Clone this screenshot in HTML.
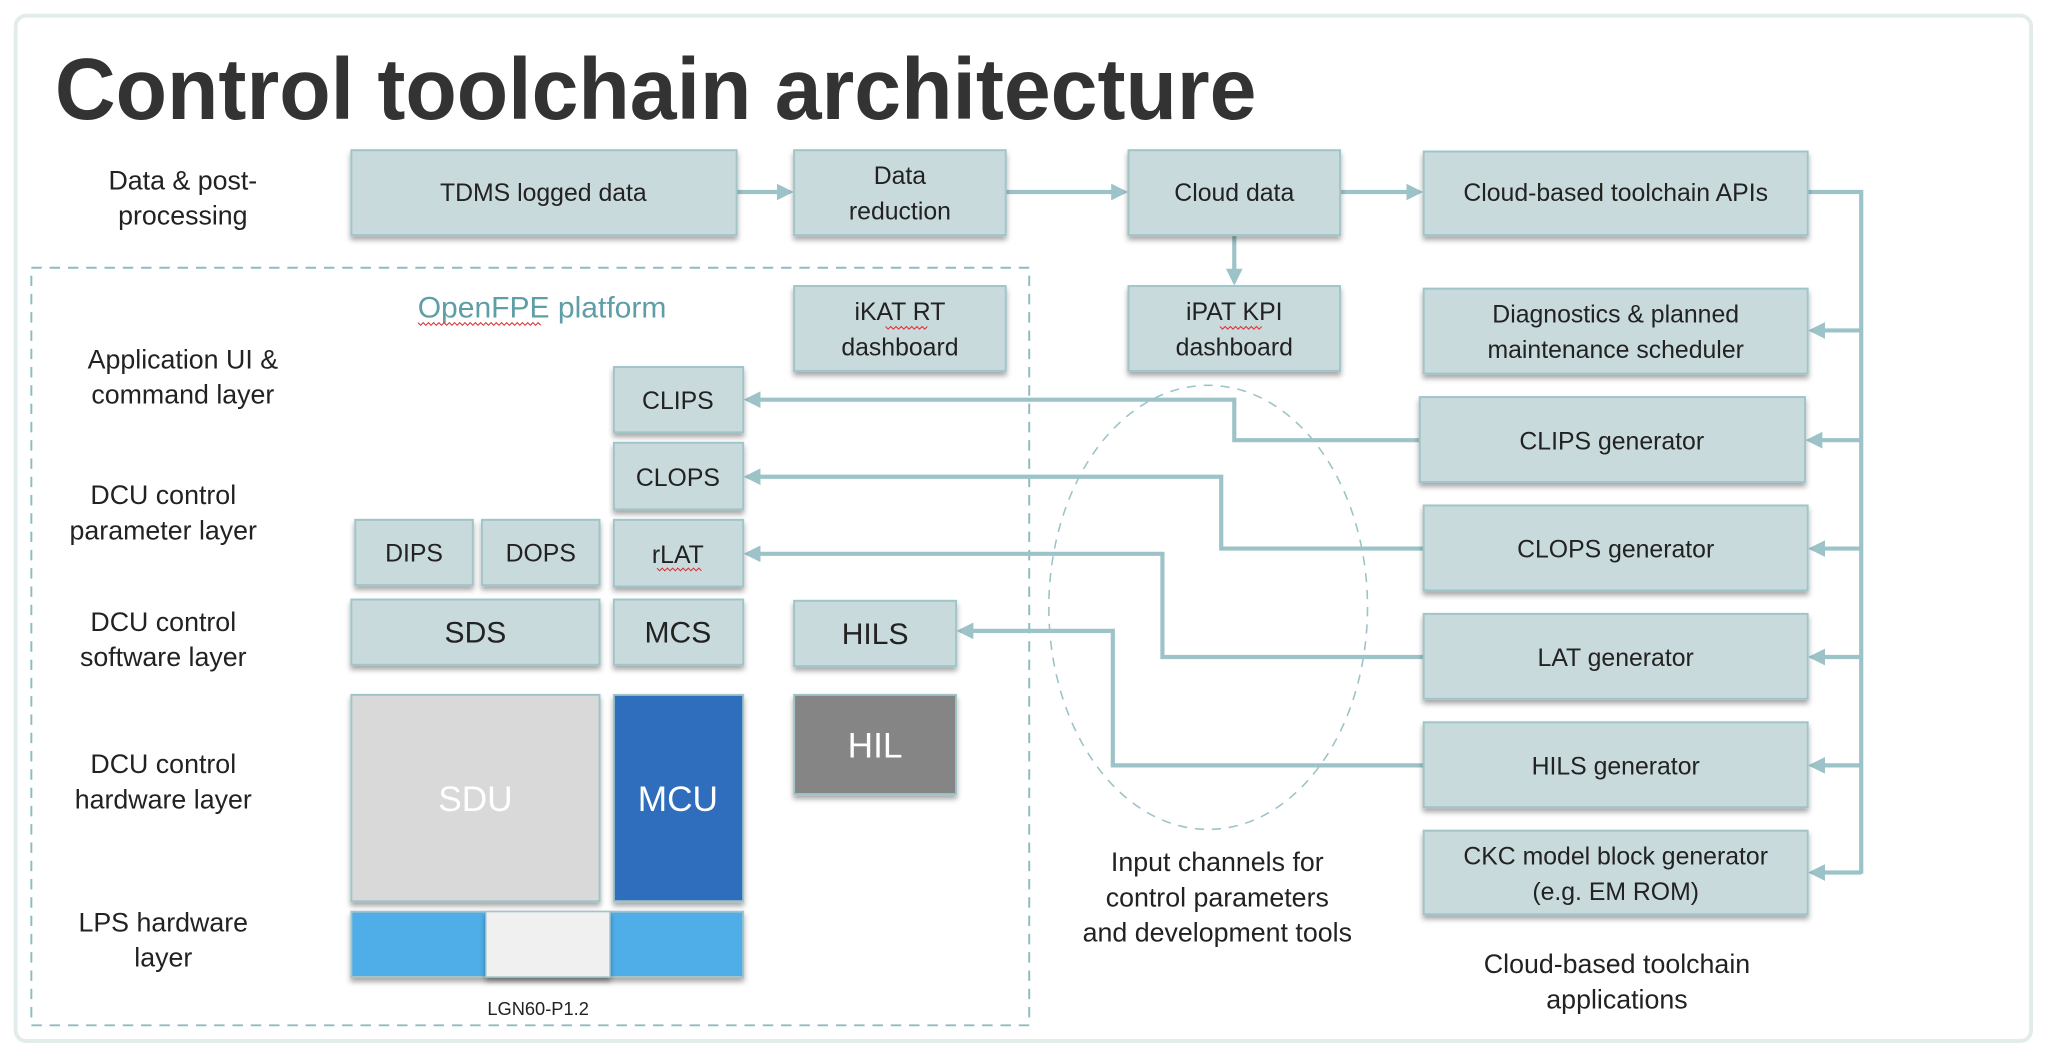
<!DOCTYPE html>
<html><head><meta charset="utf-8"><style>
html,body{margin:0;padding:0;background:#fff;}
svg{display:block;}
text{font-family:"Liberation Sans",sans-serif;}
</style></head><body>
<svg width="2048" height="1056" viewBox="0 0 1568 808.5" preserveAspectRatio="none" xmlns="http://www.w3.org/2000/svg">
<defs>
<filter id="sh" x="-10%" y="-10%" width="120%" height="140%"><feDropShadow dx="0" dy="3" stdDeviation="2" flood-color="#000" flood-opacity="0.35"/></filter>
<marker id="ar" markerWidth="4" markerHeight="4" refX="3.2" refY="2" orient="auto" markerUnits="strokeWidth"><path d="M0,0 L4,2 L0,4 z" fill="#9cc3c7"/></marker>
</defs>
<rect x="12" y="12" width="1543" height="785" rx="8" fill="#fff" stroke="#e2eceb" stroke-width="3"/>
<text x="42" y="91" font-size="67" font-weight="bold" fill="#333" textLength="920" lengthAdjust="spacingAndGlyphs">Control toolchain architecture</text>

<rect x="24" y="205" width="764" height="580" fill="none" stroke="#8fbcc0" stroke-width="1.5" stroke-dasharray="8,6"/>
<ellipse cx="925" cy="465" rx="122" ry="170" fill="none" stroke="#9cc3c7" stroke-width="1.2" stroke-dasharray="7,6"/>
<text x="415" y="243" font-size="23" fill="#5e9ea6" text-anchor="middle">OpenFPE platform</text>

<g font-size="20.5" fill="#222" text-anchor="middle">
<text x="140" y="145">Data &amp; post-</text><text x="140" y="172">processing</text>
<text x="140" y="282">Application UI &amp;</text><text x="140" y="309">command layer</text>
<text x="125" y="386">DCU control</text><text x="125" y="413">parameter layer</text>
<text x="125" y="483">DCU control</text><text x="125" y="510">software layer</text>
<text x="125" y="592">DCU control</text><text x="125" y="619">hardware layer</text>
<text x="125" y="713">LPS hardware</text><text x="125" y="740">layer</text>
<text x="932" y="667">Input channels for</text><text x="932" y="694">control parameters</text><text x="932" y="721">and development tools</text>
<text x="1238" y="745">Cloud-based toolchain</text><text x="1238" y="772">applications</text>
</g>
<text x="412" y="777" font-size="14" fill="#222" text-anchor="middle">LGN60-P1.2</text>

<g stroke="#9cc3c7" stroke-width="3.2" fill="none" marker-end="url(#ar)">
<line x1="564" y1="147" x2="605" y2="147"/>
<line x1="770" y1="147" x2="861" y2="147"/>
<line x1="1026" y1="147" x2="1087" y2="147"/>
<line x1="945" y1="180" x2="945" y2="216"/>
<polyline points="1087,337 945,337 945,306 572,306"/>
<polyline points="1090,420 935,420 935,365 572,365"/>
<polyline points="1090,503 890,503 890,424 572,424"/>
<polyline points="1090,586 852,586 852,483 735,483"/>
<line x1="1425" y1="253" x2="1387" y2="253"/>
<line x1="1425" y1="337" x2="1385" y2="337"/>
<line x1="1425" y1="420" x2="1387" y2="420"/>
<line x1="1425" y1="503" x2="1387" y2="503"/>
<line x1="1425" y1="586" x2="1387" y2="586"/>
<line x1="1425" y1="668" x2="1387" y2="668"/>
</g>
<polyline points="1384,147 1425,147 1425,669" stroke="#9cc3c7" stroke-width="3.2" fill="none"/>

<g fill="#c9dadd" stroke="#9fc5c9" stroke-width="1.5" filter="url(#sh)">
<rect x="269" y="115" width="295" height="65"/>
<rect x="608" y="115" width="162" height="65"/>
<rect x="864" y="115" width="162" height="65"/>
<rect x="1090" y="116" width="294" height="64"/>
<rect x="608" y="219" width="162" height="65"/>
<rect x="864" y="219" width="162" height="65"/>
<rect x="1090" y="221" width="294" height="65"/>
<rect x="1087" y="304" width="295" height="65"/>
<rect x="1090" y="387" width="294" height="65"/>
<rect x="1090" y="470" width="294" height="65"/>
<rect x="1090" y="553" width="294" height="65"/>
<rect x="1090" y="636" width="294" height="64"/>
<rect x="470" y="281" width="99" height="50"/>
<rect x="470" y="339" width="99" height="51"/>
<rect x="272" y="398" width="90" height="50"/>
<rect x="369" y="398" width="90" height="50"/>
<rect x="470" y="398" width="99" height="51"/>
<rect x="269" y="459" width="190" height="50"/>
<rect x="470" y="459" width="99" height="50"/>
<rect x="608" y="460" width="124" height="50"/>
<rect x="269" y="532" width="190" height="158" fill="#d9d9d9"/>
<rect x="470" y="532" width="99" height="158" fill="#2f6ebc"/>
<rect x="608" y="532" width="124" height="76" fill="#858585"/>
<rect x="269" y="698" width="300" height="50" fill="#4faee8"/>
</g>
<rect x="372" y="698" width="95" height="50" fill="#f0f0f0" stroke="#9fc5c9" stroke-width="1" filter="url(#sh)"/>

<g font-size="19" fill="#222" text-anchor="middle">
<text x="416" y="154">TDMS logged data</text>
<text x="689" y="141">Data</text><text x="689" y="168">reduction</text>
<text x="945" y="154">Cloud data</text>
<text x="1237" y="154">Cloud-based toolchain APIs</text>
<text x="689" y="245">iKAT RT</text><text x="689" y="272">dashboard</text>
<text x="945" y="245">iPAT KPI</text><text x="945" y="272">dashboard</text>
<text x="1237" y="247">Diagnostics &amp; planned</text><text x="1237" y="274">maintenance scheduler</text>
<text x="1234" y="344">CLIPS generator</text>
<text x="1237" y="427">CLOPS generator</text>
<text x="1237" y="510">LAT generator</text>
<text x="1237" y="593">HILS generator</text>
<text x="1237" y="662">CKC model block generator</text><text x="1237" y="689">(e.g. EM ROM)</text>
<text x="519" y="313">CLIPS</text>
<text x="519" y="372">CLOPS</text>
<text x="317" y="430">DIPS</text>
<text x="414" y="430">DOPS</text>
<text x="519" y="431">rLAT</text>
</g>
<g font-size="23" fill="#222" text-anchor="middle">
<text x="364" y="492">SDS</text>
<text x="519" y="492">MCS</text>
<text x="670" y="493">HILS</text>
</g>
<g font-size="27" fill="#fff" text-anchor="middle">
<text x="364" y="621">SDU</text>
<text x="519" y="621">MCU</text>
<text x="670" y="580">HIL</text>
</g>
<g stroke="#d33" stroke-width="0.8" fill="none">
<path d="M320,247 l2,2 l2,-2 l2,2 l2,-2 l2,2 l2,-2 l2,2 l2,-2 l2,2 l2,-2 l2,2 l2,-2 l2,2 l2,-2 l2,2 l2,-2 l2,2 l2,-2 l2,2 l2,-2 l2,2 l2,-2 l2,2 l2,-2 l2,2 l2,-2 l2,2 l2,-2 l2,2 l2,-2 l2,2 l2,-2 l2,2 l2,-2 l2,2 l2,-2 l2,2 l2,-2 l2,2 l2,-2 l2,2 l2,-2 l2,2 l2,-2 l2,2 l2,-2 l2,2"/>
<path d="M678,250 l2,2 l2,-2 l2,2 l2,-2 l2,2 l2,-2 l2,2 l2,-2 l2,2 l2,-2 l2,2 l2,-2 l2,2 l2,-2 l2,2 l2,-2"/>
<path d="M934,250 l2,2 l2,-2 l2,2 l2,-2 l2,2 l2,-2 l2,2 l2,-2 l2,2 l2,-2 l2,2 l2,-2 l2,2 l2,-2 l2,2 l2,-2"/>
<path d="M503,435 l2,2 l2,-2 l2,2 l2,-2 l2,2 l2,-2 l2,2 l2,-2 l2,2 l2,-2 l2,2 l2,-2 l2,2 l2,-2 l2,2 l2,-2 l2,2"/>
</g>
</svg>
</body></html>
